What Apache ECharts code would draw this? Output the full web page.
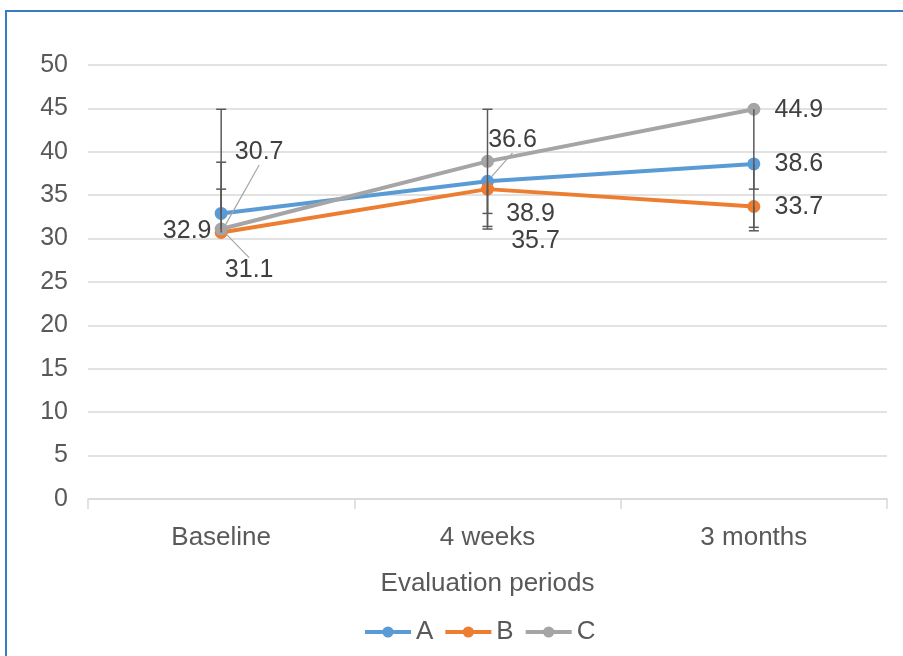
<!DOCTYPE html>
<html>
<head>
<meta charset="utf-8">
<script src="https://cdn.jsdelivr.net/npm/echarts@6/dist/echarts.min.js"></script>
<style>
html,body{margin:0;padding:0;background:#fff;}
#frame{position:absolute;left:5px;top:10px;width:898px;height:646px;border-left:2px solid #3a7cc2;border-top:2px solid #3a7cc2;box-sizing:border-box;}
#chart{position:absolute;left:0;top:0;width:903px;height:656px;}
</style>
</head>
<body>
<div id="frame"></div>
<div id="chart"></div>
<script>
// ---- data ----
const categories = ['Baseline', '4 weeks', '3 months'];
const seriesNames = ['A', 'B', 'C'];
const valuesA = [32.9, 36.6, 38.6];
const valuesB = [30.7, 35.7, 33.7];
const valuesC = [31.1, 38.9, 44.9];
const yTicks = [0, 5, 10, 15, 20, 25, 30, 35, 40, 45, 50];
// error bars: [category index, start value, cap value]
const errorBars = [
  [0, 32.9, 44.9], [0, 30.7, 35.7], [0, 31.1, 38.8],
  [1, 38.9, 44.9], [1, 36.6, 32.9], [1, 35.7, 31.4], [1, 38.9, 31.1],
  [2, 38.6, 35.7], [2, 33.7, 31.3], [2, 44.9, 30.9]
];

// ---- styling / label placement (not data) ----
const colors = ['#5b9bd5', '#ed7d31', '#a5a5a5'];
const labelShift = {
  A: [[-34, 18, false], [25, -41, true], [45, 0, false]],
  B: [[38, -80, true], [48, 52, false], [45, 1, false]],
  C: [[28, 41, true], [43, 53, false], [45, 1, false]]
};
const FONT = '"Liberation Sans", Arial, sans-serif';
const TXT = '#595959';

function buildSeries(name, vals, idx) {
  return {
    name: name,
    type: 'line',
    data: vals.map((v, i) => ({
      value: v,
      labelLine: { show: labelShift[name][i][2] }
    })),
    symbol: 'circle',
    symbolSize: 13,
    lineStyle: { width: 4, color: colors[idx] },
    itemStyle: { color: colors[idx] },
    z: 3 + idx,
    label: {
      show: true,
      position: 'inside',
      fontSize: 25,
      fontFamily: FONT,
      color: '#404040',
      formatter: p => p.value.toFixed(1)
    },
    labelLine: { show: true, lineStyle: { color: '#a5a5a5', width: 1.2 } },
    labelLayout: function (p) {
      const s = labelShift[name][p.dataIndex];
      return { dx: s[0], dy: s[1] };
    }
  };
}

const chart = echarts.init(document.getElementById('chart'), null, { renderer: 'canvas' });
chart.setOption({
  animation: false,
  backgroundColor: 'transparent',
  textStyle: { fontFamily: FONT },
  grid: { left: 88, right: 16, top: 65, bottom: 157, containLabel: false },
  xAxis: {
    type: 'category',
    data: categories,
    boundaryGap: true,
    axisLine: { lineStyle: { color: '#d9d9d9', width: 1.5 } },
    axisTick: { show: true, length: 10, lineStyle: { color: '#d9d9d9', width: 1.5 } },
    axisLabel: { fontSize: 26, color: TXT, fontFamily: FONT, margin: 26 },
    name: 'Evaluation periods',
    nameLocation: 'middle',
    nameGap: 72,
    nameTextStyle: { fontSize: 26, color: TXT, fontFamily: FONT }
  },
  yAxis: {
    type: 'value',
    min: yTicks[0],
    max: yTicks[yTicks.length - 1],
    interval: yTicks[1] - yTicks[0],
    axisLine: { show: false },
    axisTick: { show: false },
    axisLabel: { fontSize: 25, color: TXT, fontFamily: FONT, margin: 20, padding: [7, 0, 0, 0] },
    splitLine: { lineStyle: { color: '#d9d9d9', width: 1.5 } }
  },
  legend: {
    data: seriesNames,
    left: 358,
    top: 614,
    itemWidth: 46,
    itemHeight: 14,
    itemGap: 10,
    lineStyle: { width: 4 },
    textStyle: { fontSize: 26, color: TXT, fontFamily: FONT }
  },
  series: [
    buildSeries('A', valuesA, 0),
    buildSeries('B', valuesB, 1),
    buildSeries('C', valuesC, 2),
    {
      type: 'custom',
      name: 'err',
      z: 10,
      silent: true,
      data: errorBars,
      renderItem: function (params, api) {
        const p0 = api.coord([api.value(0), api.value(1)]);
        const p1 = api.coord([api.value(0), api.value(2)]);
        const hw = 5;
        const st = { stroke: '#595959', lineWidth: 1.5 };
        return {
          type: 'group',
          children: [
            { type: 'line', shape: { x1: p0[0], y1: p0[1], x2: p1[0], y2: p1[1] }, style: st },
            { type: 'line', shape: { x1: p1[0] - hw, y1: p1[1], x2: p1[0] + hw, y2: p1[1] }, style: st }
          ]
        };
      },
      encode: { x: 0, y: [1, 2] }
    }
  ]
});
</script>
</body>
</html>
